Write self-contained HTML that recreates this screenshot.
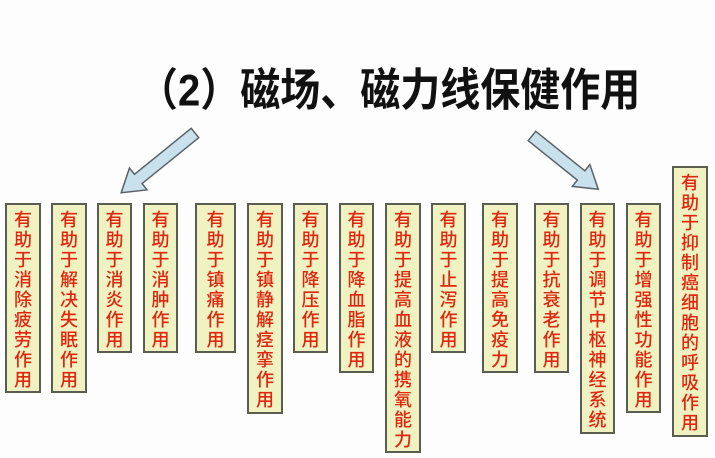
<!DOCTYPE html>
<html><head><meta charset="utf-8"><style>
html,body{margin:0;padding:0;background:#fdfdfd;}
body{width:715px;height:458px;position:relative;overflow:hidden;}
.title{position:absolute;left:138px;top:54px;font-size:40px;font-weight:bold;color:#111;white-space:nowrap;font-family:"Liberation Sans","WenQuanYi Zen Hei","Noto Sans CJK SC",sans-serif;transform:scaleY(1.12);transform-origin:top left;}
svg text{font-family:"Noto Sans CJK SC","WenQuanYi Zen Hei",sans-serif;font-size:18px;fill:#e0260e;text-anchor:middle;font-weight:500;}
</style></head><body>
<div class="title">（2）磁场、磁力线保健作用</div>
<svg width="715" height="458" style="position:absolute;left:0;top:0">
<g transform="translate(195,133) rotate(141)"><polygon points="0,-6 73,-6 73,-14 95,0 73,14 73,6 0,6" fill="#c9e1ec" stroke="#5a6268" stroke-width="1.5"/></g>
<g transform="translate(532,136) rotate(38.8)"><polygon points="0,-6 63,-6 63,-14 85,0 63,14 63,6 0,6" fill="#c9e1ec" stroke="#5a6268" stroke-width="1.5"/></g>
<g fill="#f1f2c2" stroke="#5a5e50" stroke-width="2">
<rect x="6" y="204" width="34" height="188"/>
<rect x="52" y="204" width="34" height="188"/>
<rect x="98" y="204" width="33" height="148"/>
<rect x="144" y="204" width="33" height="148"/>
<rect x="196" y="204" width="39" height="148"/>
<rect x="248" y="204" width="34" height="209"/>
<rect x="294" y="204" width="33" height="148"/>
<rect x="340" y="204" width="33" height="168"/>
<rect x="386" y="204" width="34" height="248"/>
<rect x="432" y="204" width="33" height="148"/>
<rect x="483" y="204" width="34" height="168"/>
<rect x="535" y="204" width="33" height="168"/>
<rect x="581" y="204" width="33" height="229"/>
<rect x="627" y="204" width="33" height="208"/>
<rect x="673" y="167" width="34" height="269"/>
</g>
<text x="23" y="226"><tspan x="23">有</tspan><tspan x="23" dy="20">助</tspan><tspan x="23" dy="20">于</tspan><tspan x="23" dy="20">消</tspan><tspan x="23" dy="20">除</tspan><tspan x="23" dy="20">疲</tspan><tspan x="23" dy="20">劳</tspan><tspan x="23" dy="20">作</tspan><tspan x="23" dy="20">用</tspan></text>
<text x="69" y="226"><tspan x="69">有</tspan><tspan x="69" dy="20">助</tspan><tspan x="69" dy="20">于</tspan><tspan x="69" dy="20">解</tspan><tspan x="69" dy="20">决</tspan><tspan x="69" dy="20">失</tspan><tspan x="69" dy="20">眠</tspan><tspan x="69" dy="20">作</tspan><tspan x="69" dy="20">用</tspan></text>
<text x="114.5" y="226"><tspan x="114.5">有</tspan><tspan x="114.5" dy="20">助</tspan><tspan x="114.5" dy="20">于</tspan><tspan x="114.5" dy="20">消</tspan><tspan x="114.5" dy="20">炎</tspan><tspan x="114.5" dy="20">作</tspan><tspan x="114.5" dy="20">用</tspan></text>
<text x="160.5" y="226"><tspan x="160.5">有</tspan><tspan x="160.5" dy="20">助</tspan><tspan x="160.5" dy="20">于</tspan><tspan x="160.5" dy="20">消</tspan><tspan x="160.5" dy="20">肿</tspan><tspan x="160.5" dy="20">作</tspan><tspan x="160.5" dy="20">用</tspan></text>
<text x="215.5" y="226"><tspan x="215.5">有</tspan><tspan x="215.5" dy="20">助</tspan><tspan x="215.5" dy="20">于</tspan><tspan x="215.5" dy="20">镇</tspan><tspan x="215.5" dy="20">痛</tspan><tspan x="215.5" dy="20">作</tspan><tspan x="215.5" dy="20">用</tspan></text>
<text x="265" y="226"><tspan x="265">有</tspan><tspan x="265" dy="20">助</tspan><tspan x="265" dy="20">于</tspan><tspan x="265" dy="20">镇</tspan><tspan x="265" dy="20">静</tspan><tspan x="265" dy="20">解</tspan><tspan x="265" dy="20">痉</tspan><tspan x="265" dy="20">挛</tspan><tspan x="265" dy="20">作</tspan><tspan x="265" dy="20">用</tspan></text>
<text x="310.5" y="226"><tspan x="310.5">有</tspan><tspan x="310.5" dy="20">助</tspan><tspan x="310.5" dy="20">于</tspan><tspan x="310.5" dy="20">降</tspan><tspan x="310.5" dy="20">压</tspan><tspan x="310.5" dy="20">作</tspan><tspan x="310.5" dy="20">用</tspan></text>
<text x="356.5" y="226"><tspan x="356.5">有</tspan><tspan x="356.5" dy="20">助</tspan><tspan x="356.5" dy="20">于</tspan><tspan x="356.5" dy="20">降</tspan><tspan x="356.5" dy="20">血</tspan><tspan x="356.5" dy="20">脂</tspan><tspan x="356.5" dy="20">作</tspan><tspan x="356.5" dy="20">用</tspan></text>
<text x="403" y="226"><tspan x="403">有</tspan><tspan x="403" dy="20">助</tspan><tspan x="403" dy="20">于</tspan><tspan x="403" dy="20">提</tspan><tspan x="403" dy="20">高</tspan><tspan x="403" dy="20">血</tspan><tspan x="403" dy="20">液</tspan><tspan x="403" dy="20">的</tspan><tspan x="403" dy="20">携</tspan><tspan x="403" dy="20">氧</tspan><tspan x="403" dy="20">能</tspan><tspan x="403" dy="20">力</tspan></text>
<text x="448.5" y="226"><tspan x="448.5">有</tspan><tspan x="448.5" dy="20">助</tspan><tspan x="448.5" dy="20">于</tspan><tspan x="448.5" dy="20">止</tspan><tspan x="448.5" dy="20">泻</tspan><tspan x="448.5" dy="20">作</tspan><tspan x="448.5" dy="20">用</tspan></text>
<text x="500" y="226"><tspan x="500">有</tspan><tspan x="500" dy="20">助</tspan><tspan x="500" dy="20">于</tspan><tspan x="500" dy="20">提</tspan><tspan x="500" dy="20">高</tspan><tspan x="500" dy="20">免</tspan><tspan x="500" dy="20">疫</tspan><tspan x="500" dy="20">力</tspan></text>
<text x="551.5" y="226"><tspan x="551.5">有</tspan><tspan x="551.5" dy="20">助</tspan><tspan x="551.5" dy="20">于</tspan><tspan x="551.5" dy="20">抗</tspan><tspan x="551.5" dy="20">衰</tspan><tspan x="551.5" dy="20">老</tspan><tspan x="551.5" dy="20">作</tspan><tspan x="551.5" dy="20">用</tspan></text>
<text x="597.5" y="226"><tspan x="597.5">有</tspan><tspan x="597.5" dy="20">助</tspan><tspan x="597.5" dy="20">于</tspan><tspan x="597.5" dy="20">调</tspan><tspan x="597.5" dy="20">节</tspan><tspan x="597.5" dy="20">中</tspan><tspan x="597.5" dy="20">枢</tspan><tspan x="597.5" dy="20">神</tspan><tspan x="597.5" dy="20">经</tspan><tspan x="597.5" dy="20">系</tspan><tspan x="597.5" dy="20">统</tspan></text>
<text x="643.5" y="226"><tspan x="643.5">有</tspan><tspan x="643.5" dy="20">助</tspan><tspan x="643.5" dy="20">于</tspan><tspan x="643.5" dy="20">增</tspan><tspan x="643.5" dy="20">强</tspan><tspan x="643.5" dy="20">性</tspan><tspan x="643.5" dy="20">功</tspan><tspan x="643.5" dy="20">能</tspan><tspan x="643.5" dy="20">作</tspan><tspan x="643.5" dy="20">用</tspan></text>
<text x="690" y="189"><tspan x="690">有</tspan><tspan x="690" dy="20">助</tspan><tspan x="690" dy="20">于</tspan><tspan x="690" dy="20">抑</tspan><tspan x="690" dy="20">制</tspan><tspan x="690" dy="20">癌</tspan><tspan x="690" dy="20">细</tspan><tspan x="690" dy="20">胞</tspan><tspan x="690" dy="20">的</tspan><tspan x="690" dy="20">呼</tspan><tspan x="690" dy="20">吸</tspan><tspan x="690" dy="20">作</tspan><tspan x="690" dy="20">用</tspan></text>
</svg>
</body></html>
